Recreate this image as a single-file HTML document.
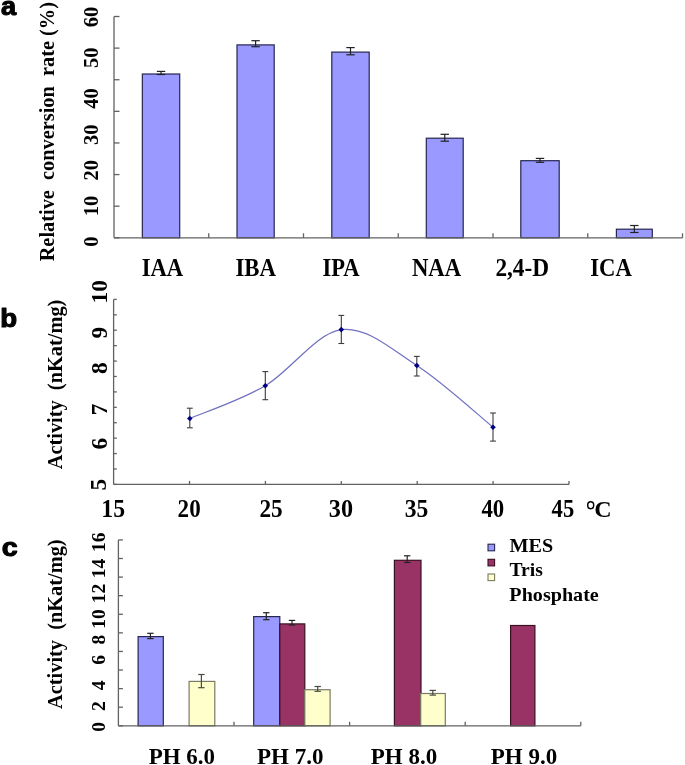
<!DOCTYPE html>
<html><head><meta charset="utf-8"><style>
html,body{margin:0;padding:0;background:#fff;width:685px;height:765px;overflow:hidden}
svg{display:block}
text{fill:#000}
</style></head><body>
<svg width="685" height="765" viewBox="0 0 685 765">
<line x1="114.00" y1="16.50" x2="114.00" y2="237.80" stroke="#626262" stroke-width="1.3"/>
<line x1="114.00" y1="16.50" x2="119.50" y2="16.50" stroke="#626262" stroke-width="1.3"/>
<line x1="114.00" y1="48.11" x2="119.50" y2="48.11" stroke="#626262" stroke-width="1.3"/>
<line x1="114.00" y1="79.73" x2="119.50" y2="79.73" stroke="#626262" stroke-width="1.3"/>
<line x1="114.00" y1="111.34" x2="119.50" y2="111.34" stroke="#626262" stroke-width="1.3"/>
<line x1="114.00" y1="142.96" x2="119.50" y2="142.96" stroke="#626262" stroke-width="1.3"/>
<line x1="114.00" y1="174.57" x2="119.50" y2="174.57" stroke="#626262" stroke-width="1.3"/>
<line x1="114.00" y1="206.19" x2="119.50" y2="206.19" stroke="#626262" stroke-width="1.3"/>
<line x1="114.00" y1="237.80" x2="119.50" y2="237.80" stroke="#626262" stroke-width="1.3"/>
<line x1="208.75" y1="237.80" x2="208.75" y2="233.30" stroke="#626262" stroke-width="1.3"/>
<line x1="303.50" y1="237.80" x2="303.50" y2="233.30" stroke="#626262" stroke-width="1.3"/>
<line x1="398.25" y1="237.80" x2="398.25" y2="233.30" stroke="#626262" stroke-width="1.3"/>
<line x1="493.00" y1="237.80" x2="493.00" y2="233.30" stroke="#626262" stroke-width="1.3"/>
<line x1="587.75" y1="237.80" x2="587.75" y2="233.30" stroke="#626262" stroke-width="1.3"/>
<line x1="682.50" y1="237.80" x2="682.50" y2="233.30" stroke="#626262" stroke-width="1.3"/>
<rect x="142.35" y="74.00" width="37.35" height="163.80" fill="#9999ff" stroke="#26264f" stroke-width="1.2"/>
<rect x="237.00" y="44.90" width="37.20" height="192.90" fill="#9999ff" stroke="#26264f" stroke-width="1.2"/>
<rect x="331.80" y="52.10" width="37.40" height="185.70" fill="#9999ff" stroke="#26264f" stroke-width="1.2"/>
<rect x="426.30" y="138.20" width="36.90" height="99.60" fill="#9999ff" stroke="#26264f" stroke-width="1.2"/>
<rect x="520.80" y="160.70" width="38.40" height="77.10" fill="#9999ff" stroke="#26264f" stroke-width="1.2"/>
<rect x="616.40" y="229.20" width="35.90" height="8.60" fill="#9999ff" stroke="#26264f" stroke-width="1.2"/>
<line x1="161.03" y1="71.40" x2="161.03" y2="74.50" stroke="#222222" stroke-width="1.2"/>
<line x1="156.83" y1="71.40" x2="165.22" y2="71.40" stroke="#222222" stroke-width="1.2"/>
<line x1="156.83" y1="74.50" x2="165.22" y2="74.50" stroke="#222222" stroke-width="1.2"/>
<line x1="255.60" y1="40.70" x2="255.60" y2="46.70" stroke="#222222" stroke-width="1.2"/>
<line x1="251.40" y1="40.70" x2="259.80" y2="40.70" stroke="#222222" stroke-width="1.2"/>
<line x1="251.40" y1="46.70" x2="259.80" y2="46.70" stroke="#222222" stroke-width="1.2"/>
<line x1="350.50" y1="47.60" x2="350.50" y2="54.80" stroke="#222222" stroke-width="1.2"/>
<line x1="346.30" y1="47.60" x2="354.70" y2="47.60" stroke="#222222" stroke-width="1.2"/>
<line x1="346.30" y1="54.80" x2="354.70" y2="54.80" stroke="#222222" stroke-width="1.2"/>
<line x1="444.75" y1="134.30" x2="444.75" y2="141.20" stroke="#222222" stroke-width="1.2"/>
<line x1="440.55" y1="134.30" x2="448.95" y2="134.30" stroke="#222222" stroke-width="1.2"/>
<line x1="440.55" y1="141.20" x2="448.95" y2="141.20" stroke="#222222" stroke-width="1.2"/>
<line x1="540.00" y1="158.40" x2="540.00" y2="162.30" stroke="#222222" stroke-width="1.2"/>
<line x1="535.80" y1="158.40" x2="544.20" y2="158.40" stroke="#222222" stroke-width="1.2"/>
<line x1="535.80" y1="162.30" x2="544.20" y2="162.30" stroke="#222222" stroke-width="1.2"/>
<line x1="634.35" y1="225.50" x2="634.35" y2="232.50" stroke="#222222" stroke-width="1.2"/>
<line x1="630.15" y1="225.50" x2="638.55" y2="225.50" stroke="#222222" stroke-width="1.2"/>
<line x1="630.15" y1="232.50" x2="638.55" y2="232.50" stroke="#222222" stroke-width="1.2"/>
<line x1="114.00" y1="237.80" x2="682.50" y2="237.80" stroke="#626262" stroke-width="1.3"/>
<line x1="113.60" y1="299.40" x2="113.60" y2="484.40" stroke="#626262" stroke-width="1.3"/>
<line x1="113.60" y1="299.40" x2="116.80" y2="299.40" stroke="#626262" stroke-width="1.3"/>
<line x1="113.60" y1="314.82" x2="116.80" y2="314.82" stroke="#626262" stroke-width="1.3"/>
<line x1="113.60" y1="330.23" x2="116.80" y2="330.23" stroke="#626262" stroke-width="1.3"/>
<line x1="113.60" y1="345.65" x2="116.80" y2="345.65" stroke="#626262" stroke-width="1.3"/>
<line x1="113.60" y1="361.07" x2="116.80" y2="361.07" stroke="#626262" stroke-width="1.3"/>
<line x1="113.60" y1="376.48" x2="116.80" y2="376.48" stroke="#626262" stroke-width="1.3"/>
<line x1="113.60" y1="391.90" x2="116.80" y2="391.90" stroke="#626262" stroke-width="1.3"/>
<line x1="113.60" y1="407.32" x2="116.80" y2="407.32" stroke="#626262" stroke-width="1.3"/>
<line x1="113.60" y1="422.73" x2="116.80" y2="422.73" stroke="#626262" stroke-width="1.3"/>
<line x1="113.60" y1="438.15" x2="116.80" y2="438.15" stroke="#626262" stroke-width="1.3"/>
<line x1="113.60" y1="453.57" x2="116.80" y2="453.57" stroke="#626262" stroke-width="1.3"/>
<line x1="113.60" y1="468.98" x2="116.80" y2="468.98" stroke="#626262" stroke-width="1.3"/>
<line x1="113.60" y1="484.40" x2="116.80" y2="484.40" stroke="#626262" stroke-width="1.3"/>
<line x1="113.60" y1="484.40" x2="569.00" y2="484.40" stroke="#626262" stroke-width="1.3"/>
<line x1="189.50" y1="484.40" x2="189.50" y2="480.90" stroke="#626262" stroke-width="1.3"/>
<line x1="265.40" y1="484.40" x2="265.40" y2="480.90" stroke="#626262" stroke-width="1.3"/>
<line x1="341.30" y1="484.40" x2="341.30" y2="480.90" stroke="#626262" stroke-width="1.3"/>
<line x1="417.20" y1="484.40" x2="417.20" y2="480.90" stroke="#626262" stroke-width="1.3"/>
<line x1="493.10" y1="484.40" x2="493.10" y2="480.90" stroke="#626262" stroke-width="1.3"/>
<line x1="569.00" y1="484.40" x2="569.00" y2="480.90" stroke="#626262" stroke-width="1.3"/>
<path d="M189.80,418.50 C202.38,413.03 240.05,400.52 265.30,385.70 C290.55,370.88 316.05,332.97 341.30,329.60 C366.55,326.23 391.52,349.23 416.80,365.50 C442.08,381.77 480.30,416.92 493.00,427.20" fill="none" stroke="#7070c0" stroke-width="1.25"/>
<line x1="189.80" y1="408.20" x2="189.80" y2="427.80" stroke="#3c3c3c" stroke-width="1.1"/>
<line x1="186.90" y1="408.20" x2="192.70" y2="408.20" stroke="#3c3c3c" stroke-width="1.1"/>
<line x1="186.90" y1="427.80" x2="192.70" y2="427.80" stroke="#3c3c3c" stroke-width="1.1"/>
<line x1="265.30" y1="371.60" x2="265.30" y2="399.70" stroke="#3c3c3c" stroke-width="1.1"/>
<line x1="262.40" y1="371.60" x2="268.20" y2="371.60" stroke="#3c3c3c" stroke-width="1.1"/>
<line x1="262.40" y1="399.70" x2="268.20" y2="399.70" stroke="#3c3c3c" stroke-width="1.1"/>
<line x1="341.30" y1="315.40" x2="341.30" y2="343.50" stroke="#3c3c3c" stroke-width="1.1"/>
<line x1="338.40" y1="315.40" x2="344.20" y2="315.40" stroke="#3c3c3c" stroke-width="1.1"/>
<line x1="338.40" y1="343.50" x2="344.20" y2="343.50" stroke="#3c3c3c" stroke-width="1.1"/>
<line x1="416.80" y1="356.40" x2="416.80" y2="376.00" stroke="#3c3c3c" stroke-width="1.1"/>
<line x1="413.90" y1="356.40" x2="419.70" y2="356.40" stroke="#3c3c3c" stroke-width="1.1"/>
<line x1="413.90" y1="376.00" x2="419.70" y2="376.00" stroke="#3c3c3c" stroke-width="1.1"/>
<line x1="493.00" y1="413.00" x2="493.00" y2="441.10" stroke="#3c3c3c" stroke-width="1.1"/>
<line x1="490.10" y1="413.00" x2="495.90" y2="413.00" stroke="#3c3c3c" stroke-width="1.1"/>
<line x1="490.10" y1="441.10" x2="495.90" y2="441.10" stroke="#3c3c3c" stroke-width="1.1"/>
<path d="M189.80,415.70 L192.60,418.50 L189.80,421.30 L187.00,418.50Z" fill="#000080"/>
<path d="M265.30,382.90 L268.10,385.70 L265.30,388.50 L262.50,385.70Z" fill="#000080"/>
<path d="M341.30,326.80 L344.10,329.60 L341.30,332.40 L338.50,329.60Z" fill="#000080"/>
<path d="M416.80,362.70 L419.60,365.50 L416.80,368.30 L414.00,365.50Z" fill="#000080"/>
<path d="M493.00,424.40 L495.80,427.20 L493.00,430.00 L490.20,427.20Z" fill="#000080"/>
<line x1="118.40" y1="539.90" x2="118.40" y2="725.80" stroke="#626262" stroke-width="1.3"/>
<line x1="118.40" y1="539.90" x2="122.90" y2="539.90" stroke="#626262" stroke-width="1.3"/>
<line x1="118.40" y1="558.49" x2="122.90" y2="558.49" stroke="#626262" stroke-width="1.3"/>
<line x1="118.40" y1="577.08" x2="122.90" y2="577.08" stroke="#626262" stroke-width="1.3"/>
<line x1="118.40" y1="595.67" x2="122.90" y2="595.67" stroke="#626262" stroke-width="1.3"/>
<line x1="118.40" y1="614.26" x2="122.90" y2="614.26" stroke="#626262" stroke-width="1.3"/>
<line x1="118.40" y1="632.85" x2="122.90" y2="632.85" stroke="#626262" stroke-width="1.3"/>
<line x1="118.40" y1="651.44" x2="122.90" y2="651.44" stroke="#626262" stroke-width="1.3"/>
<line x1="118.40" y1="670.03" x2="122.90" y2="670.03" stroke="#626262" stroke-width="1.3"/>
<line x1="118.40" y1="688.62" x2="122.90" y2="688.62" stroke="#626262" stroke-width="1.3"/>
<line x1="118.40" y1="707.21" x2="122.90" y2="707.21" stroke="#626262" stroke-width="1.3"/>
<line x1="118.40" y1="725.80" x2="122.90" y2="725.80" stroke="#626262" stroke-width="1.3"/>
<line x1="234.00" y1="725.80" x2="234.00" y2="721.80" stroke="#626262" stroke-width="1.3"/>
<line x1="349.60" y1="725.80" x2="349.60" y2="721.80" stroke="#626262" stroke-width="1.3"/>
<line x1="465.20" y1="725.80" x2="465.20" y2="721.80" stroke="#626262" stroke-width="1.3"/>
<line x1="580.80" y1="725.80" x2="580.80" y2="721.80" stroke="#626262" stroke-width="1.3"/>
<rect x="138.10" y="636.60" width="25.20" height="89.20" fill="#9999ff" stroke="#26264f" stroke-width="1.2"/>
<rect x="189.10" y="681.40" width="25.70" height="44.40" fill="#ffffcc" stroke="#7a7a66" stroke-width="1.2"/>
<rect x="253.70" y="616.60" width="26.10" height="109.20" fill="#9999ff" stroke="#26264f" stroke-width="1.2"/>
<rect x="279.80" y="623.90" width="25.00" height="101.90" fill="#993366" stroke="#3a0f22" stroke-width="1.2"/>
<rect x="304.80" y="689.70" width="25.30" height="36.10" fill="#ffffcc" stroke="#7a7a66" stroke-width="1.2"/>
<rect x="394.40" y="560.30" width="26.60" height="165.50" fill="#993366" stroke="#3a0f22" stroke-width="1.2"/>
<rect x="420.70" y="693.50" width="24.60" height="32.30" fill="#ffffcc" stroke="#7a7a66" stroke-width="1.2"/>
<rect x="510.60" y="625.50" width="24.30" height="100.30" fill="#993366" stroke="#3a0f22" stroke-width="1.2"/>
<line x1="150.40" y1="633.30" x2="150.40" y2="638.60" stroke="#222222" stroke-width="1.2"/>
<line x1="147.20" y1="633.30" x2="153.60" y2="633.30" stroke="#222222" stroke-width="1.2"/>
<line x1="147.20" y1="638.60" x2="153.60" y2="638.60" stroke="#222222" stroke-width="1.2"/>
<line x1="201.40" y1="674.50" x2="201.40" y2="687.70" stroke="#4a4a40" stroke-width="1.2"/>
<line x1="198.20" y1="674.50" x2="204.60" y2="674.50" stroke="#4a4a40" stroke-width="1.2"/>
<line x1="198.20" y1="687.70" x2="204.60" y2="687.70" stroke="#4a4a40" stroke-width="1.2"/>
<line x1="266.30" y1="612.70" x2="266.30" y2="619.70" stroke="#222222" stroke-width="1.2"/>
<line x1="263.10" y1="612.70" x2="269.50" y2="612.70" stroke="#222222" stroke-width="1.2"/>
<line x1="263.10" y1="619.70" x2="269.50" y2="619.70" stroke="#222222" stroke-width="1.2"/>
<line x1="292.00" y1="620.40" x2="292.00" y2="625.00" stroke="#222222" stroke-width="1.2"/>
<line x1="288.80" y1="620.40" x2="295.20" y2="620.40" stroke="#222222" stroke-width="1.2"/>
<line x1="288.80" y1="625.00" x2="295.20" y2="625.00" stroke="#222222" stroke-width="1.2"/>
<line x1="317.70" y1="686.50" x2="317.70" y2="691.30" stroke="#4a4a40" stroke-width="1.2"/>
<line x1="314.50" y1="686.50" x2="320.90" y2="686.50" stroke="#4a4a40" stroke-width="1.2"/>
<line x1="314.50" y1="691.30" x2="320.90" y2="691.30" stroke="#4a4a40" stroke-width="1.2"/>
<line x1="407.20" y1="555.80" x2="407.20" y2="562.50" stroke="#222222" stroke-width="1.2"/>
<line x1="404.00" y1="555.80" x2="410.40" y2="555.80" stroke="#222222" stroke-width="1.2"/>
<line x1="404.00" y1="562.50" x2="410.40" y2="562.50" stroke="#222222" stroke-width="1.2"/>
<line x1="432.80" y1="690.40" x2="432.80" y2="695.10" stroke="#4a4a40" stroke-width="1.2"/>
<line x1="429.60" y1="690.40" x2="436.00" y2="690.40" stroke="#4a4a40" stroke-width="1.2"/>
<line x1="429.60" y1="695.10" x2="436.00" y2="695.10" stroke="#4a4a40" stroke-width="1.2"/>
<line x1="118.40" y1="725.80" x2="580.80" y2="725.80" stroke="#626262" stroke-width="1.3"/>
<ellipse cx="590.7" cy="505.2" rx="3.0" ry="3.45" fill="none" stroke="#000" stroke-width="1.45"/>
<rect x="488.00" y="544.20" width="6.60" height="6.60" fill="#9999ff" stroke="#26264f" stroke-width="1.1"/>
<rect x="488.00" y="559.30" width="6.60" height="6.60" fill="#993366" stroke="#3a0f22" stroke-width="1.1"/>
<rect x="488.00" y="574.00" width="6.60" height="6.60" fill="#ffffcc" stroke="#7a7a66" stroke-width="1.1"/>
<g opacity="0.999">
<text x="1.0" y="15.0" font-family="Liberation Sans" font-weight="bold" font-size="25.64" xml:space="preserve" textLength="15.14" lengthAdjust="spacingAndGlyphs" stroke="#000" stroke-width="1.1" stroke-linejoin="round">a</text>
<text x="0.3" y="326.7" font-family="Liberation Sans" font-weight="bold" font-size="24.96" xml:space="preserve" textLength="16.86" lengthAdjust="spacingAndGlyphs" stroke="#000" stroke-width="1.1" stroke-linejoin="round">b</text>
<text x="1.88" y="555.72" font-family="Liberation Sans" font-weight="bold" font-size="26.0" xml:space="preserve" textLength="15.89" lengthAdjust="spacingAndGlyphs" stroke="#000" stroke-width="1.1" stroke-linejoin="round">c</text>
<text x="54.3" y="261.33" font-family="Liberation Serif" font-weight="bold" font-size="19.9" xml:space="preserve" textLength="259.25" lengthAdjust="spacingAndGlyphs" transform="rotate(-90 54.3 261.33)">Relative  conversion  rate (%)</text>
<text x="61.78" y="469.3" font-family="Liberation Serif" font-weight="bold" font-size="19.9" xml:space="preserve" textLength="169.71" lengthAdjust="spacingAndGlyphs" transform="rotate(-90 61.78 469.3)">Activity  (nKat/mg)</text>
<text x="61.72" y="708.9" font-family="Liberation Serif" font-weight="bold" font-size="19.9" xml:space="preserve" textLength="169.51" lengthAdjust="spacingAndGlyphs" transform="rotate(-90 61.72 708.9)">Activity  (nKat/mg)</text>
<text x="97.6" y="27.2" font-family="Liberation Serif" font-weight="bold" font-size="20.5" xml:space="preserve" transform="rotate(-90 97.6 27.2)">60</text>
<text x="97.6" y="68.05" font-family="Liberation Serif" font-weight="bold" font-size="20.5" xml:space="preserve" transform="rotate(-90 97.6 68.05)">50</text>
<text x="97.6" y="108.8" font-family="Liberation Serif" font-weight="bold" font-size="20.5" xml:space="preserve" transform="rotate(-90 97.6 108.8)">40</text>
<text x="97.6" y="144.95" font-family="Liberation Serif" font-weight="bold" font-size="20.5" xml:space="preserve" transform="rotate(-90 97.6 144.95)">30</text>
<text x="97.6" y="180.45" font-family="Liberation Serif" font-weight="bold" font-size="20.5" xml:space="preserve" transform="rotate(-90 97.6 180.45)">20</text>
<text x="97.6" y="216.32" font-family="Liberation Serif" font-weight="bold" font-size="20.5" xml:space="preserve" transform="rotate(-90 97.6 216.32)">10</text>
<text x="97.6" y="246.82" font-family="Liberation Serif" font-weight="bold" font-size="20.5" xml:space="preserve" transform="rotate(-90 97.6 246.82)">0</text>
<text x="106.62" y="303.52" font-family="Liberation Serif" font-weight="bold" font-size="23.4" xml:space="preserve" transform="rotate(-90 106.62 303.52)">10</text>
<text x="106.62" y="338.45" font-family="Liberation Serif" font-weight="bold" font-size="23.4" xml:space="preserve" transform="rotate(-90 106.62 338.45)">9</text>
<text x="106.62" y="374.08" font-family="Liberation Serif" font-weight="bold" font-size="23.4" xml:space="preserve" transform="rotate(-90 106.62 374.08)">8</text>
<text x="106.62" y="415.15" font-family="Liberation Serif" font-weight="bold" font-size="23.4" xml:space="preserve" transform="rotate(-90 106.62 415.15)">7</text>
<text x="106.62" y="449.48" font-family="Liberation Serif" font-weight="bold" font-size="23.4" xml:space="preserve" transform="rotate(-90 106.62 449.48)">6</text>
<text x="106.5" y="490.48" font-family="Liberation Serif" font-weight="bold" font-size="23.4" xml:space="preserve" transform="rotate(-90 106.5 490.48)">5</text>
<text x="105.32" y="551.9" font-family="Liberation Serif" font-weight="bold" font-size="19.5" xml:space="preserve" transform="rotate(-90 105.32 551.9)">16</text>
<text x="105.45" y="578.12" font-family="Liberation Serif" font-weight="bold" font-size="19.5" xml:space="preserve" transform="rotate(-90 105.45 578.12)">14</text>
<text x="105.45" y="603.12" font-family="Liberation Serif" font-weight="bold" font-size="19.5" xml:space="preserve" transform="rotate(-90 105.45 603.12)">12</text>
<text x="105.32" y="628.72" font-family="Liberation Serif" font-weight="bold" font-size="19.5" xml:space="preserve" transform="rotate(-90 105.32 628.72)">10</text>
<text x="105.32" y="644.58" font-family="Liberation Serif" font-weight="bold" font-size="19.5" xml:space="preserve" transform="rotate(-90 105.32 644.58)">8</text>
<text x="105.32" y="664.8" font-family="Liberation Serif" font-weight="bold" font-size="19.5" xml:space="preserve" transform="rotate(-90 105.32 664.8)">6</text>
<text x="105.32" y="690.18" font-family="Liberation Serif" font-weight="bold" font-size="19.5" xml:space="preserve" transform="rotate(-90 105.32 690.18)">4</text>
<text x="105.45" y="711.08" font-family="Liberation Serif" font-weight="bold" font-size="19.5" xml:space="preserve" transform="rotate(-90 105.45 711.08)">2</text>
<text x="105.32" y="731.68" font-family="Liberation Serif" font-weight="bold" font-size="19.5" xml:space="preserve" transform="rotate(-90 105.32 731.68)">0</text>
<text x="141.7" y="276.15" font-family="Liberation Serif" font-weight="bold" font-size="24.3" xml:space="preserve" textLength="41.46" lengthAdjust="spacingAndGlyphs">IAA</text>
<text x="235.38" y="276.15" font-family="Liberation Serif" font-weight="bold" font-size="24.3" xml:space="preserve" textLength="40.61" lengthAdjust="spacingAndGlyphs">IBA</text>
<text x="322.38" y="276.15" font-family="Liberation Serif" font-weight="bold" font-size="24.3" xml:space="preserve" textLength="37.14" lengthAdjust="spacingAndGlyphs">IPA</text>
<text x="411.9" y="276.15" font-family="Liberation Serif" font-weight="bold" font-size="24.3" xml:space="preserve" textLength="49.2" lengthAdjust="spacingAndGlyphs">NAA</text>
<text x="495.38" y="276.15" font-family="Liberation Serif" font-weight="bold" font-size="24.3" xml:space="preserve" textLength="53.77" lengthAdjust="spacingAndGlyphs">2,4-D</text>
<text x="590.28" y="276.15" font-family="Liberation Serif" font-weight="bold" font-size="24.3" xml:space="preserve" textLength="41.66" lengthAdjust="spacingAndGlyphs">ICA</text>
<text x="101.3" y="517.25" font-family="Liberation Serif" font-weight="bold" font-size="24.2" xml:space="preserve" textLength="23.79" lengthAdjust="spacingAndGlyphs">15</text>
<text x="177.62" y="517.25" font-family="Liberation Serif" font-weight="bold" font-size="24.2" xml:space="preserve" textLength="23.05" lengthAdjust="spacingAndGlyphs">20</text>
<text x="259.4" y="517.25" font-family="Liberation Serif" font-weight="bold" font-size="24.2" xml:space="preserve" textLength="23.26" lengthAdjust="spacingAndGlyphs">25</text>
<text x="328.88" y="517.25" font-family="Liberation Serif" font-weight="bold" font-size="24.2" xml:space="preserve" textLength="24.24" lengthAdjust="spacingAndGlyphs">30</text>
<text x="404.72" y="517.25" font-family="Liberation Serif" font-weight="bold" font-size="24.2" xml:space="preserve" textLength="23.59" lengthAdjust="spacingAndGlyphs">35</text>
<text x="481.38" y="517.25" font-family="Liberation Serif" font-weight="bold" font-size="24.2" xml:space="preserve" textLength="22.82" lengthAdjust="spacingAndGlyphs">40</text>
<text x="551.6" y="517.25" font-family="Liberation Serif" font-weight="bold" font-size="24.2" xml:space="preserve" textLength="22.61" lengthAdjust="spacingAndGlyphs">45</text>
<text x="594.28" y="516.6" font-family="Liberation Serif" font-weight="bold" font-size="23.8" xml:space="preserve" textLength="17.37" lengthAdjust="spacingAndGlyphs">C</text>
<text x="148.75" y="763.85" font-family="Liberation Serif" font-weight="bold" font-size="24.0" xml:space="preserve" textLength="66.27" lengthAdjust="spacingAndGlyphs">PH 6.0</text>
<text x="257.05" y="763.85" font-family="Liberation Serif" font-weight="bold" font-size="24.0" xml:space="preserve" textLength="66.47" lengthAdjust="spacingAndGlyphs">PH 7.0</text>
<text x="370.8" y="763.85" font-family="Liberation Serif" font-weight="bold" font-size="24.0" xml:space="preserve" textLength="66.37" lengthAdjust="spacingAndGlyphs">PH 8.0</text>
<text x="490.8" y="763.85" font-family="Liberation Serif" font-weight="bold" font-size="24.0" xml:space="preserve" textLength="66.37" lengthAdjust="spacingAndGlyphs">PH 9.0</text>
<text x="509.45" y="551.75" font-family="Liberation Serif" font-weight="bold" font-size="19.5" xml:space="preserve" textLength="43.65" lengthAdjust="spacingAndGlyphs">MES</text>
<text x="509.38" y="576.05" font-family="Liberation Serif" font-weight="bold" font-size="19.5" xml:space="preserve" textLength="33.44" lengthAdjust="spacingAndGlyphs">Tris</text>
<text x="509.38" y="600.65" font-family="Liberation Serif" font-weight="bold" font-size="19.5" xml:space="preserve" textLength="89.41" lengthAdjust="spacingAndGlyphs">Phosphate</text>
</g>
</svg>
</body></html>
